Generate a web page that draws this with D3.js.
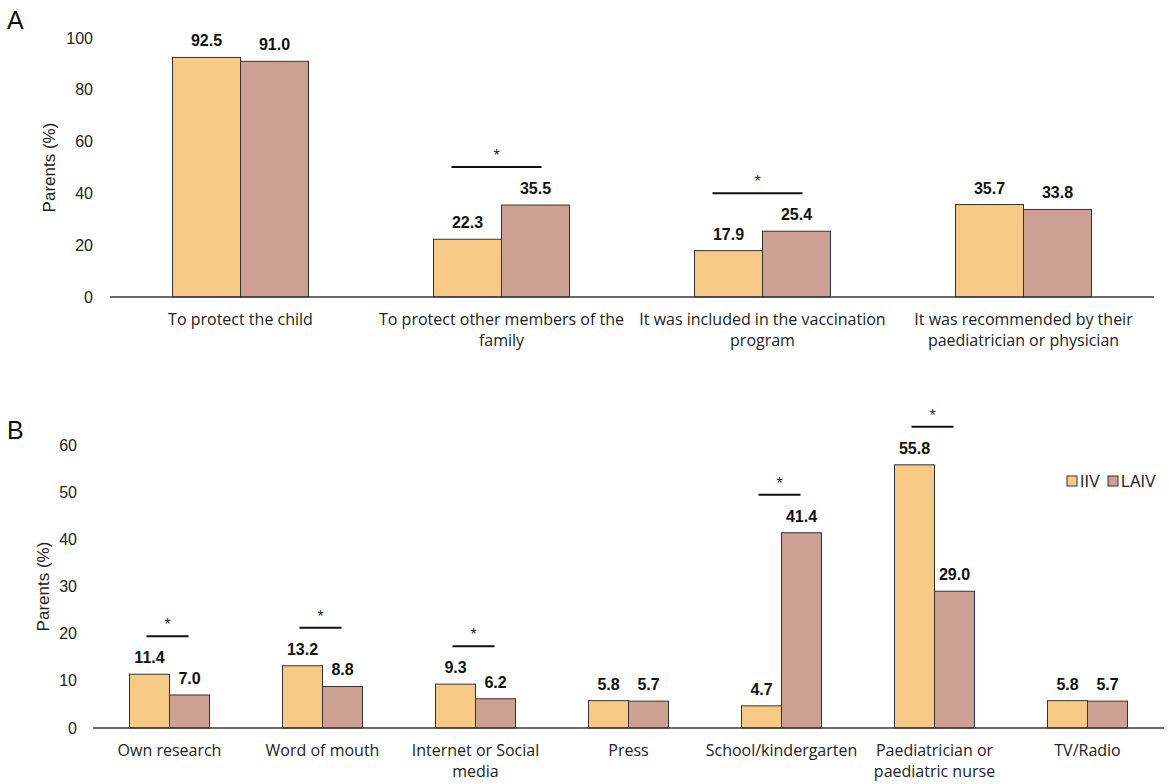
<!DOCTYPE html>
<html>
<head>
<meta charset="utf-8">
<script src="https://cdn.jsdelivr.net/npm/d3@7"></script>
<style>
  body { margin: 0; background: #fff; }
  svg { display: block; }
  .tick-label { font-family: "Liberation Sans", Arial, sans-serif; font-size: 16px; fill: #222; }
  .cat-label { font-family: "Open Sans", sans-serif; font-size: 16px; fill: #222; }
  .val-label { font-family: "Liberation Sans", Arial, sans-serif; font-size: 16px; font-weight: bold; fill: #111; }
  .axis-title { font-family: "Liberation Sans", Arial, sans-serif; font-size: 17px; fill: #222; }
  .panel-letter { font-family: "Liberation Sans", Arial, sans-serif; font-size: 25px; fill: #111; }
</style>
</head>
<body>
<svg width="1169" height="784"></svg>
<script>
const series = ["IIV", "LAIV"];
const colors = ["#f6c985", "#cca093"];

// panel A
const catsA = [
  ["To protect the child"],
  ["To protect other members of the", "family"],
  ["It was included in the vaccination", "program"],
  ["It was recommended by their", "paediatrician or physician"]
];
const iivA = [92.5, 22.3, 17.9, 35.7];
const laivA = [91.0, 35.5, 25.4, 33.8];
const sigA = [false, true, true, false];
const ticksA = [0, 20, 40, 60, 80, 100];

// panel B
const catsB = [
  ["Own research"],
  ["Word of mouth"],
  ["Internet or Social", "media"],
  ["Press"],
  ["School/kindergarten"],
  ["Paediatrician or", "paediatric nurse"],
  ["TV/Radio"]
];
const iivB = [11.4, 13.2, 9.3, 5.8, 4.7, 55.8, 5.8];
const laivB = [7.0, 8.8, 6.2, 5.7, 41.4, 29.0, 5.7];
const sigB = [true, true, true, false, true, true, false];
const ticksB = [0, 10, 20, 30, 40, 50, 60];

const svg = d3.select("svg");

function panel(opt) {
  const g = svg.append("g");
  const names = opt.cats.map(c => c.join(" "));
  const rows = names.map((n, i) => ({ name: n, lines: opt.cats[i], vals: [opt.iiv[i], opt.laiv[i]], sig: opt.sig[i] }));

  const y = d3.scaleLinear().domain([0, opt.ymax]).range([opt.y0, opt.ytop]);
  const pad = 1 - opt.barFrac;
  const x0 = d3.scaleBand().domain(names).range([opt.xl, opt.xr])
    .paddingInner(pad).paddingOuter(pad / 2);
  const x1 = d3.scaleBand().domain(series).range([0, x0.bandwidth()]);

  // y tick labels, no axis line
  g.selectAll("text.tick-label")
    .data(opt.ticks)
    .enter()
    .append("text")
    .attr("class", "tick-label")
    .attr("x", opt.xl - opt.tickGap)
    .attr("y", d => y(d))
    .attr("dy", "0.35em")
    .attr("text-anchor", "end")
    .text(d => d);

  g.append("text")
    .attr("class", "axis-title")
    .attr("transform", `translate(${opt.titleX},${(opt.y0 + opt.ytop) / 2}) rotate(-90)`)
    .attr("text-anchor", "middle")
    .text("Parents (%)");

  const grp = g.selectAll("g.grp")
    .data(rows)
    .enter()
    .append("g")
    .attr("transform", d => `translate(${x0(d.name)},0)`);

  grp.selectAll("rect")
    .data(d => d.vals.map((v, i) => ({ key: series[i], v })))
    .enter()
    .append("rect")
    .attr("x", d => x1(d.key))
    .attr("y", d => y(d.v))
    .attr("width", x1.bandwidth())
    .attr("height", d => opt.y0 - y(d.v))
    .attr("fill", (d, i) => colors[i])
    .attr("stroke", "#333")
    .attr("stroke-width", 1);

  grp.selectAll("text.val-label")
    .data(d => d.vals.map((v, i) => ({ key: series[i], v })))
    .enter()
    .append("text")
    .attr("class", "val-label")
    .attr("x", d => x1(d.key) + x1.bandwidth() / 2)
    .attr("y", d => y(d.v) - 11)
    .attr("text-anchor", "middle")
    .text(d => d.v.toFixed(1));

  // significance bars
  const sig = grp.filter(d => d.sig);
  sig.append("line")
    .attr("x1", x0.bandwidth() / 2 - opt.sigW / 2 - opt.sigShift)
    .attr("x2", x0.bandwidth() / 2 + opt.sigW / 2 - opt.sigShift)
    .attr("y1", d => y(d3.max(d.vals)) - 38)
    .attr("y2", d => y(d3.max(d.vals)) - 38)
    .attr("stroke", "#111")
    .attr("stroke-width", 2);
  sig.append("text")
    .attr("class", "tick-label")
    .attr("x", x0.bandwidth() / 2 - opt.sigShift)
    .attr("y", d => y(d3.max(d.vals)) - 44)
    .attr("text-anchor", "middle")
    .text("*");

  // baseline
  g.append("line")
    .attr("x1", opt.xl).attr("x2", opt.xr)
    .attr("y1", opt.y0).attr("y2", opt.y0)
    .attr("stroke", "#3a3a3a")
    .attr("stroke-width", 1.5);

  // category labels
  const lab = g.selectAll("text.cat-label")
    .data(rows)
    .enter()
    .append("text")
    .attr("class", "cat-label")
    .attr("text-anchor", "middle")
    .attr("x", d => x0(d.name) + x0.bandwidth() / 2)
    .attr("y", opt.y0 + opt.labGap);
  lab.selectAll("tspan")
    .data(d => d.lines)
    .enter()
    .append("tspan")
    .attr("x", function() { return this.parentNode.getAttribute("x"); })
    .attr("dy", (d, i) => i === 0 ? 0 : 21)
    .text(d => d);

  g.append("text")
    .attr("class", "panel-letter")
    .attr("x", 7)
    .attr("y", opt.letterY)
    .text(opt.letter);

  return { g, y };
}

panel({
  letter: "A", letterY: 29,
  cats: catsA, iiv: iivA, laiv: laivA, sig: sigA, ticks: ticksA,
  ymax: 100, y0: 297, ytop: 38, xl: 110, xr: 1154,
  barFrac: 136 / 261, tickGap: 17, titleX: 55, labGap: 28,
  sigW: 90, sigShift: 5
});

panel({
  letter: "B", letterY: 439,
  cats: catsB, iiv: iivB, laiv: laivB, sig: sigB, ticks: ticksB,
  ymax: 60, y0: 728, ytop: 445, xl: 93, xr: 1164,
  barFrac: 80 / 153, tickGap: 16, titleX: 49, labGap: 28,
  sigW: 42, sigShift: 2
});

// legend
const leg = svg.append("g").attr("transform", "translate(1067,481)");
const li = leg.selectAll("g")
  .data(series)
  .enter()
  .append("g")
  .attr("transform", (d, i) => `translate(${i * 41},0)`);
li.append("rect")
  .attr("x", 0).attr("y", -5)
  .attr("width", 10).attr("height", 10)
  .attr("fill", (d, i) => colors[i])
  .attr("stroke", "#333");
li.append("text")
  .attr("class", "tick-label")
  .attr("x", 13)
  .attr("dy", "0.35em")
  .text(d => d);
</script>
</body>
</html>
